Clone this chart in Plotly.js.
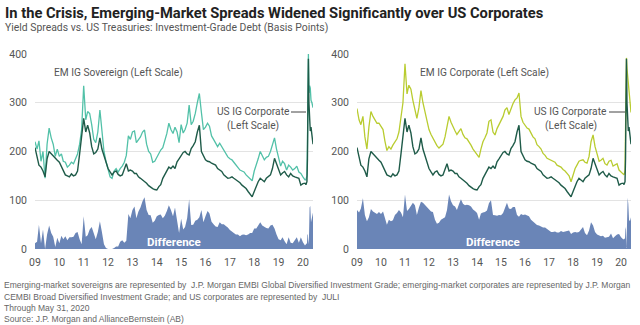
<!DOCTYPE html>
<html><head><meta charset="utf-8">
<script src="https://cdn.plot.ly/plotly-3.0.1.min.js"></script>
<style>html,body{margin:0;padding:0;background:#fff}#chart{width:640px;height:325px}</style>
</head><body><div id="chart"></div>
<script>
// Monthly readings Jan 2009 .. Feb 2020, then finer points for the 2020 spike
const monthlyStart = [2009, 1];
const monthlyCount = 134;
const tailDates = ['2020-02-15','2020-03-01','2020-03-09','2020-03-16','2020-03-23','2020-03-31','2020-04-10','2020-04-20','2020-05-01','2020-05-15','2020-05-31'];

const usIG = [
  208,190,172,168,160,148,185,200,195,190,186,182,
  178,168,160,152,150,148,154,150,152,160,195,235,
  268,240,254,238,210,195,198,205,228,205,190,178,
  165,158,152,158,160,153,150,152,165,175,160,162,
  160,155,155,148,145,142,138,135,130,126,124,122,
  121,128,132,145,152,159,168,165,170,165,179,185,
  193,198,200,195,193,206,212,220,240,254,200,190,
  183,180,179,176,174,172,165,162,159,152,148,145,
  146,148,145,142,138,136,131,128,124,118,112,107,
  118,130,138,145,142,138,145,148,152,165,186,175,
  165,152,156,159,152,148,155,150,148,146,145,131,
  134,135,
  132,138,185,300,390,300,250,242,250,238,215
];
const emSov = [
  220,205,222,180,200,145,215,248,228,215,190,205,
  190,195,180,178,168,172,178,175,185,195,215,245,
  335,265,282,278,255,225,218,240,285,240,200,180,
  165,148,145,160,165,158,165,170,178,192,232,225,
  240,242,218,225,230,240,244,215,200,195,178,180,
  188,198,203,208,220,237,258,245,237,250,240,218,
  255,238,245,258,295,255,262,278,300,319,280,245,
  250,258,252,232,225,218,210,217,210,203,195,189,
  185,183,178,172,168,162,160,158,152,148,145,140,
  160,172,185,200,190,183,188,190,200,215,228,205,
  185,170,180,175,162,172,168,162,165,170,158,155,
  148,142,
  142,150,215,330,400,320,335,330,305,300,290
];
const emCorp = [
  288,265,255,272,230,205,250,282,272,265,258,258,
  250,245,222,202,210,205,213,220,226,240,270,300,
  380,318,336,328,305,285,268,290,325,300,280,265,
  245,235,228,218,212,207,210,215,230,255,272,260,
  250,242,235,240,247,235,228,226,220,213,205,200,
  195,188,205,220,228,238,262,265,240,234,247,255,
  262,272,285,290,276,288,298,306,310,320,272,260,
  254,248,246,236,230,226,214,210,205,196,192,186,
  184,183,180,178,172,170,168,163,160,155,150,138,
  152,165,172,180,182,183,178,176,190,220,234,210,
  195,180,182,186,175,172,180,182,170,172,175,162,
  158,155,
  152,160,230,340,392,370,355,335,310,295,280
];
const yearTickLabels = ['09','10','11','12','13','14','15','16','17','18','19','20'];
const yTicks = [0,100,200,300,400];

const dates = [];
for (let i = 0; i < monthlyCount; i++) {
  const y = monthlyStart[0] + Math.floor((monthlyStart[1]-1+i)/12);
  const m = (monthlyStart[1]-1+i)%12 + 1;
  dates.push(y + '-' + String(m).padStart(2,'0') + '-01');
}
tailDates.forEach(d => dates.push(d));

const diffSov = emSov.map((v,i) => Math.max(0, v - usIG[i]));
const diffCorp = emCorp.map((v,i) => Math.max(0, v - usIG[i]));

const C_US = '#1f5b49', C_SOV = '#52c1a8', C_CORP = '#b9cc30', C_DIFF = '#6a85b7';
const tickVals = yearTickLabels.map(t => '20' + t + '-01-01');

const traces = [
  {x: dates, y: diffSov, xaxis:'x', yaxis:'y', type:'scatter', mode:'lines', fill:'tozeroy', fillcolor:C_DIFF, line:{width:0, color:C_DIFF}, hoverinfo:'skip'},
  {x: dates, y: emSov, xaxis:'x', yaxis:'y', type:'scatter', mode:'lines', line:{width:1.3, color:C_SOV}},
  {x: dates, y: usIG, xaxis:'x', yaxis:'y', type:'scatter', mode:'lines', line:{width:1.4, color:C_US}},
  {x: dates, y: diffCorp, xaxis:'x2', yaxis:'y2', type:'scatter', mode:'lines', fill:'tozeroy', fillcolor:C_DIFF, line:{width:0, color:C_DIFF}, hoverinfo:'skip'},
  {x: dates, y: emCorp, xaxis:'x2', yaxis:'y2', type:'scatter', mode:'lines', line:{width:1.3, color:C_CORP}},
  {x: dates, y: usIG, xaxis:'x2', yaxis:'y2', type:'scatter', mode:'lines', line:{width:1.4, color:C_US}}
];

const FONT = 'Roboto, sans-serif';
const xBase = {type:'date', range:['2009-01-01','2020-05-31'], tickvals:tickVals, ticktext:yearTickLabels,
  showgrid:false, zeroline:false, showline:false, ticks:'', tickfont:{family:FONT, size:10.5, color:'#555'}, ticklabelstandoff:5, fixedrange:true};
const yBase = {range:[0,400], tickvals:yTicks, showgrid:true, gridcolor:'#e3e3e3', gridwidth:1, zeroline:false, showline:false,
  ticks:'', tickfont:{family:FONT, size:10.5, color:'#555'}, ticklabelstandoff:7, domain:[76/325, 271/325], fixedrange:true};

const px = v => v/640, py = v => 1 - v/325;
function txt(text, x, y, opts) {
  return Object.assign({text:text, xref:'paper', yref:'paper', x:px(x), y:py(y), xanchor:'left', yanchor:'middle', showarrow:false,
    font:{family:FONT, size:10.2, color:'#555'}}, opts||{});
}
const footFont = {family:'"Liberation Sans", Arial, sans-serif', size:8.5, color:'#666'};
const annotations = [
  txt('In the Crisis, Emerging-Market Spreads Widened Significantly over US Corporates', 3, 13, {font:{family:FONT, size:14.7, color:'#222', weight:700}}),
  txt('Yield Spreads vs. US Treasuries: Investment-Grade Debt (Basis Points)', 3, 27.5, {font:{family:FONT, size:10.4, color:'#555'}}),
  txt('EM IG Sovereign (Left Scale)', 52, 73),
  txt('US IG Corporate', 215, 112),
  txt('(Left Scale)', 225, 126),
  txt('Difference', 174, 242, {xanchor:'center', font:{family:FONT, size:11.5, color:'#fff', weight:700}}),
  txt('EM IG Corporate (Left Scale)', 418, 73),
  txt('US IG Corporate', 532, 112),
  txt('(Left Scale)', 543, 126),
  txt('Difference', 493, 242, {xanchor:'center', font:{family:FONT, size:11.5, color:'#fff', weight:700}}),
  txt('Emerging-market sovereigns are represented by  J.P. Morgan EMBI Global Diversified Investment Grade; emerging-market corporates are represented by J.P. Morgan', 2, 285, {font:footFont}),
  txt('CEMBI Broad Diversified Investment Grade; and US corporates are represented by  JULI', 2, 296.5, {font:footFont}),
  txt('Through May 31, 2020', 2, 307.5, {font:footFont}),
  txt('Source: J.P. Morgan and AllianceBernstein (AB)', 2, 318.5, {font:footFont})
];
const shapes = [
  {type:'line', xref:'paper', yref:'paper', x0:px(291), x1:px(306), y0:py(112), y1:py(112), line:{color:'#444', width:1}},
  {type:'line', xref:'paper', yref:'paper', x0:px(609), x1:px(625), y0:py(112), y1:py(112), line:{color:'#444', width:1}}
];

const layout = {
  width:640, height:325, margin:{l:0,r:0,t:0,b:0}, paper_bgcolor:'#fff', plot_bgcolor:'#fff', showlegend:false,
  xaxis: Object.assign({}, xBase, {domain:[35/640, 313/640], anchor:'y'}),
  yaxis: Object.assign({}, yBase, {anchor:'x'}),
  xaxis2: Object.assign({}, xBase, {domain:[357/640, 631/640], anchor:'y2'}),
  yaxis2: Object.assign({}, yBase, {anchor:'x2'}),
  annotations: annotations, shapes: shapes
};
Plotly.newPlot('chart', traces, layout, {displayModeBar:false, staticPlot:true});
</script></body></html>
